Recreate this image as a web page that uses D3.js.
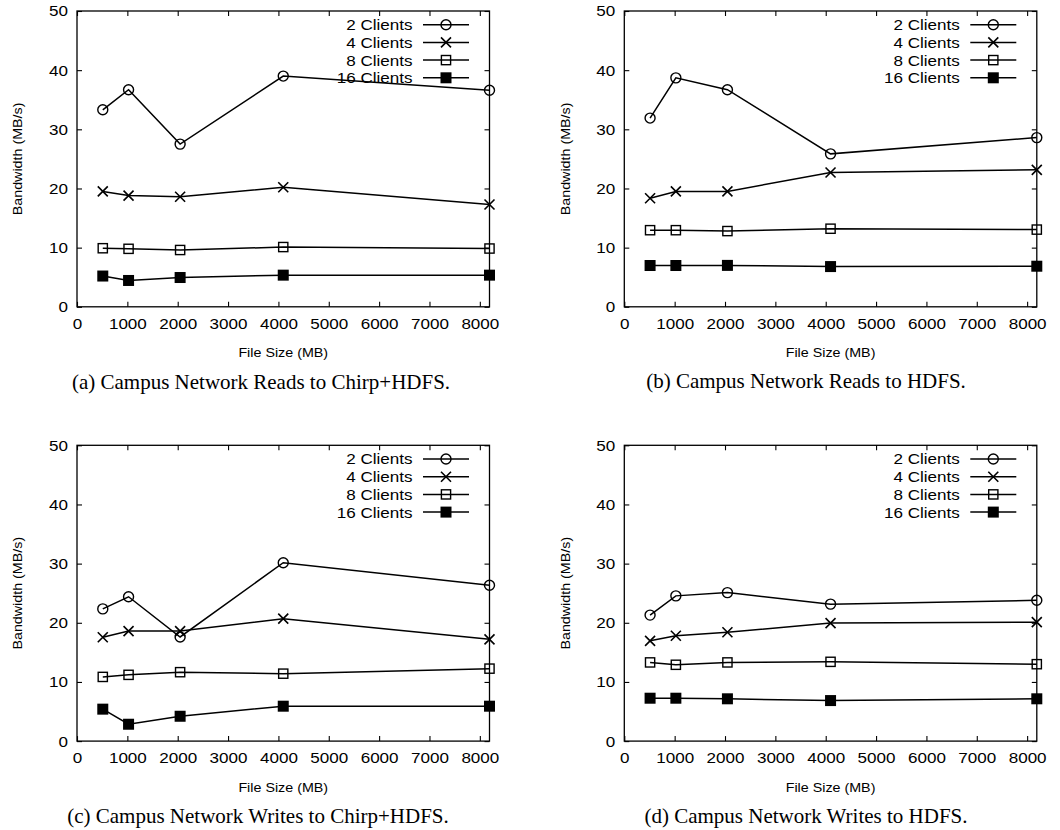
<!DOCTYPE html>
<html>
<head>
<meta charset="utf-8">
<script src="https://cdn.jsdelivr.net/npm/d3@7"></script>
<style>
  body { margin: 0; background: white; }
  svg { display: block; }
</style>
</head>
<body>
<div id="chart"></div>
<script>

let w = 1060;
let h = 830;

// data
let fileSizes = [512, 1024, 2048, 4096, 8192];
let clientLabels = ["2 Clients", "4 Clients", "8 Clients", "16 Clients"];
let markerKinds = ["circle", "cross", "square", "filled"];
let xTicks = [0, 1000, 2000, 3000, 4000, 5000, 6000, 7000, 8000];
let yTicks = [0, 10, 20, 30, 40, 50];

// one row per client count, in the order of clientLabels
let readsChirpHdfs = [
	[33.3, 36.7, 27.5, 39.0, 36.6],
	[19.5, 18.8, 18.6, 20.2, 17.3],
	[9.9, 9.8, 9.6, 10.1, 9.85],
	[5.2, 4.45, 4.95, 5.35, 5.35]
];
let readsHdfs = [
	[31.9, 38.7, 36.7, 25.85, 28.6],
	[18.35, 19.5, 19.5, 22.7, 23.15],
	[12.95, 12.95, 12.8, 13.2, 13.05],
	[6.98, 6.98, 7.0, 6.8, 6.86]
];
let writesChirpHdfs = [
	[22.35, 24.4, 17.6, 30.15, 26.35],
	[17.55, 18.6, 18.6, 20.7, 17.2],
	[10.85, 11.2, 11.65, 11.4, 12.25],
	[5.4, 2.85, 4.2, 5.9, 5.9]
];
let writesHdfs = [
	[21.3, 24.55, 25.1, 23.15, 23.8],
	[16.95, 17.8, 18.4, 19.95, 20.1],
	[13.3, 12.9, 13.3, 13.4, 13.0],
	[7.25, 7.25, 7.15, 6.85, 7.15]
];
let captions = [
	"(a) Campus Network Reads to Chirp+HDFS.",
	"(b) Campus Network Reads to HDFS.",
	"(c) Campus Network Writes to Chirp+HDFS.",
	"(d) Campus Network Writes to HDFS."
];
let panelData = [readsChirpHdfs, readsHdfs, writesChirpHdfs, writesHdfs];

// layout of the four panels (plot frames)
let panels = [
	{ left: 77, top: 11, titleX: 17.5, capX: 261, capY: 389 },
	{ left: 624.3, top: 11, titleX: 565, capX: 806, capY: 388 },
	{ left: 77, top: 445.3, titleX: 17.5, capX: 258, capY: 823 },
	{ left: 624.3, top: 445.3, titleX: 565, capX: 806, capY: 823 }
];
let plotW = 412.5;
let plotH = 295.8;

let sans = "'Liberation Sans', Arial, Helvetica, sans-serif";
let serif = "'Liberation Serif', 'Times New Roman', serif";
let stretch = 1.1; // gnuplot's helvetica comes out a little wider

let viz = d3.select("#chart").append("svg")
	.attr("width", w)
	.attr("height", h)
	.style("background-color", "white")
;

function drawMarker(g, kind, x, y){
	if (kind == "circle") {
		g.append("circle").attr("cx", x).attr("cy", y).attr("r", 5)
			.attr("fill", "none").attr("stroke", "black").attr("stroke-width", 1.4);
	} else if (kind == "cross") {
		let s = 5;
		g.append("path")
			.attr("d", `M${x-s},${y-s}L${x+s},${y+s}M${x-s},${y+s}L${x+s},${y-s}`)
			.attr("stroke", "black").attr("stroke-width", 1.6).attr("fill", "none");
	} else if (kind == "square") {
		g.append("rect").attr("x", x-4.6).attr("y", y-4.6).attr("width", 9.2).attr("height", 9.2)
			.attr("fill", "none").attr("stroke", "black").attr("stroke-width", 1.4);
	} else {
		g.append("rect").attr("x", x-5.5).attr("y", y-5.5).attr("width", 11).attr("height", 11)
			.attr("fill", "black");
	}
}

function drawPanel(p, series, caption){

	let g = viz.append("g").attr("transform", `translate(${p.left},${p.top})`);

	let xScale = d3.scaleLinear().domain([0, 8192]).range([0, plotW]);
	let yScale = d3.scaleLinear().domain([0, 50]).range([plotH, 0]);

	// inward ticks on all four sides, like gnuplot
	let left = g.append("g").call(d3.axisLeft(yScale).tickValues(yTicks).tickSize(-5).tickPadding(9));
	let bottom = g.append("g").attr("transform", `translate(0,${plotH})`)
		.call(d3.axisBottom(xScale).tickValues(xTicks).tickSize(-5).tickPadding(11).tickFormat(d3.format("d")));
	let right = g.append("g").attr("transform", `translate(${plotW},0)`)
		.call(d3.axisRight(yScale).tickValues(yTicks).tickSize(-5).tickFormat(""));
	let top = g.append("g")
		.call(d3.axisTop(xScale).tickValues(xTicks).tickSize(-5).tickFormat(""));

	[left, bottom, right, top].forEach(function(a){
		a.select(".domain").remove();
		a.selectAll(".tick line").attr("stroke", "black").attr("stroke-width", 1.1);
		a.selectAll("text")
			.attr("fill", "black")
			.style("font-family", sans)
			.style("font-size", "15.5px")
			.attr("transform", `scale(${stretch},1)`);
	});
	left.selectAll("text").attr("x", -9 / stretch);

	g.append("rect")
		.attr("width", plotW).attr("height", plotH)
		.attr("fill", "none").attr("stroke", "black").attr("stroke-width", 1.3);

	// axis titles
	g.append("text")
		.attr("transform", `translate(${p.titleX - p.left},${plotH/2}) rotate(-90) scale(${stretch},1)`)
		.attr("text-anchor", "middle")
		.attr("dy", "0.35em")
		.style("font-family", sans)
		.style("font-size", "13px")
		.text("Bandwidth (MB/s)");

	g.append("text")
		.attr("transform", `translate(${plotW/2},${plotH + 46}) scale(${stretch},1)`)
		.attr("text-anchor", "middle")
		.attr("dy", "0.35em")
		.style("font-family", sans)
		.style("font-size", "13px")
		.text("File Size (MB)");

	let line = d3.line()
		.x(function(d, i){ return xScale(fileSizes[i]); })
		.y(function(d){ return yScale(d); });

	series.forEach(function(vals, k){
		g.append("path")
			.attr("d", line(vals))
			.attr("fill", "none")
			.attr("stroke", "black")
			.attr("stroke-width", 1.5);
		vals.forEach(function(v, i){
			drawMarker(g, markerKinds[k], xScale(fileSizes[i]), yScale(v));
		});
	});

	// legend, top right inside the frame
	clientLabels.forEach(function(lbl, k){
		let ly = 13.7 + k * 17.7;
		g.append("text")
			.attr("transform", `translate(${plotW - 77},${ly}) scale(${stretch},1)`)
			.attr("text-anchor", "end")
			.attr("dy", "0.35em")
			.style("font-family", sans)
			.style("font-size", "15.5px")
			.text(lbl);
		g.append("line")
			.attr("x1", plotW - 66.5).attr("x2", plotW - 20.5)
			.attr("y1", ly).attr("y2", ly)
			.attr("stroke", "black").attr("stroke-width", 1.5);
		drawMarker(g, markerKinds[k], plotW - 43.5, ly);
	});

	viz.append("text")
		.attr("x", p.capX)
		.attr("y", p.capY)
		.attr("text-anchor", "middle")
		.style("font-family", serif)
		.style("font-size", "21px")
		.text(caption);
}

panels.forEach(function(p, i){
	drawPanel(p, panelData[i], captions[i]);
});

</script>
</body>
</html>
